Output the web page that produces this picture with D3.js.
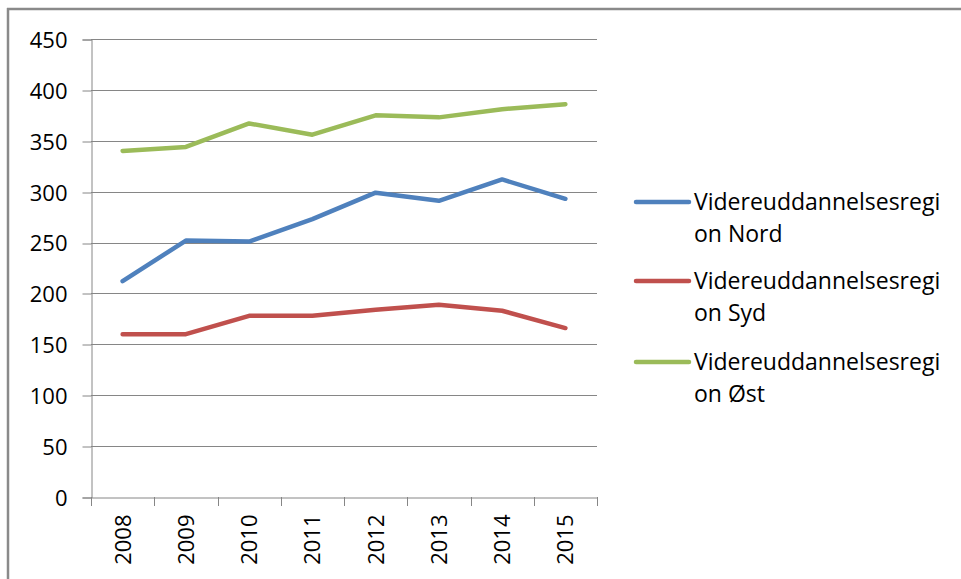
<!DOCTYPE html>
<html><head><meta charset="utf-8">
<script src="https://cdn.jsdelivr.net/npm/d3@7"></script>
<style>html,body{margin:0;padding:0;background:#fff;}svg{display:block;font-family:"Open Sans",sans-serif;}</style>
</head><body>
<svg id="c" width="961" height="579"></svg>
<script>
const years = ["2008","2009","2010","2011","2012","2013","2014","2015"];
const nord = [212,252,251,273,299,291,312,293];
const syd  = [160,160,178,178,184,189,183,166];
const ost  = [340,344,367,356,375,373,381,386];
const seriesNames = ["Videreuddannelsesregion Nord","Videreuddannelsesregion Syd","Videreuddannelsesregion Øst"];
const legendLines = [["Videreuddannelsesregi","on Nord"],["Videreuddannelsesregi","on Syd"],["Videreuddannelsesregi","on Øst"]];
const colors = ["#4F81BD","#C0504D","#9BBB59"];
const yTicks = [0,50,100,150,200,250,300,350,400,450];

const series = [nord, syd, ost];
const svg = d3.select("#c");
const m = {left:91, right:597, top:39, bottom:497};
const axisColor = "#868686";

// frame
svg.append("line").attr("x1",8).attr("x2",8).attr("y1",8).attr("y2",579).attr("stroke","#8a8a8a").attr("stroke-width",2.5);
svg.append("line").attr("x1",7).attr("x2",961).attr("y1",9).attr("y2",9).attr("stroke","#8a8a8a").attr("stroke-width",2.5);

const x = d3.scaleBand().domain(years).range([m.left, m.right]).padding(0);
const y = d3.scaleLinear().domain([0,450]).range([m.bottom, m.top]);

// gridlines
svg.append("g").selectAll("line").data(yTicks.filter(d=>d>0)).join("line")
  .attr("x1",m.left).attr("x2",m.right).attr("y1",d=>Math.round(y(d))+0.5).attr("y2",d=>Math.round(y(d))+0.5)
  .attr("stroke",axisColor).attr("stroke-width",1);

// y axis
const ya = svg.append("g").attr("transform",`translate(${m.left+0.5},0.5)`)
  .call(d3.axisLeft(y).tickValues(yTicks).tickSize(9).tickPadding(15).tickFormat(d3.format("d")));
ya.select(".domain").attr("stroke",axisColor);
ya.selectAll(".tick line").attr("stroke",axisColor).attr("transform",d=>`translate(0,${Math.round(y(d))-y(d)})`);
ya.selectAll(".tick text").attr("font-size",22).attr("fill","#000").attr("font-family","Open Sans").attr("dy","0.36em");

// x axis
const xa = svg.append("g").attr("transform",`translate(0,${Math.round(m.bottom)+0.5})`)
  .call(d3.axisBottom(x).tickSize(0).tickFormat(d=>d));
xa.select(".domain").attr("stroke",axisColor);
xa.selectAll(".tick text").attr("font-size",22).attr("fill","#000").attr("font-family","Open Sans")
  .attr("text-anchor","end").attr("transform","rotate(-90)").attr("x",-17).attr("y",0).attr("dy","0.36em");
// boundary ticks
const bounds = years.map(d=>x(d)).concat([x(years[years.length-1])+x.bandwidth()]);
svg.append("g").selectAll("line").data(bounds).join("line")
  .attr("x1",d=>Math.round(d)+0.5).attr("x2",d=>Math.round(d)+0.5)
  .attr("y1",m.bottom).attr("y2",m.bottom+9).attr("stroke",axisColor);

// lines
const line = d3.line().x((d,i)=>x(years[i])+x.bandwidth()/2).y(d=>y(d));
svg.append("g").selectAll("path").data(series).join("path")
  .attr("d",line).attr("fill","none").attr("stroke",(d,i)=>colors[i])
  .attr("stroke-width",4.5).attr("stroke-linecap","round").attr("stroke-linejoin","round");

// legend
const lg = svg.append("g");
const ly = [202,281,362];
legendLines.forEach((ls,i)=>{
  lg.append("line").attr("x1",636).attr("x2",689).attr("y1",ly[i]).attr("y2",ly[i])
    .attr("stroke",colors[i]).attr("stroke-width",4.5).attr("stroke-linecap","round");
  const t = lg.append("text").attr("x",694).attr("y",ly[i]).attr("font-size",23).attr("fill","#000").attr("dy","0.36em");
  ls.forEach((s,j)=>t.append("tspan").attr("x",694).attr("dy",j===0?"0.36em":"32px").text(s));
});
</script>
</body></html>
